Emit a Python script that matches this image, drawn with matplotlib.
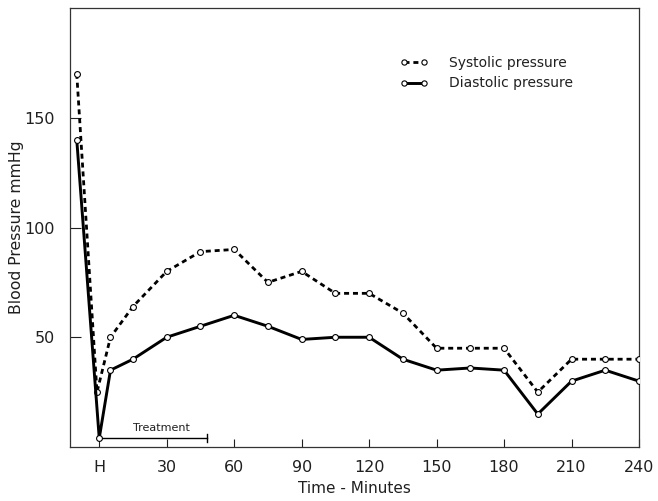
import matplotlib
matplotlib.use("Agg")
import matplotlib.pyplot as plt

# ---- data ----
sys_t = [-10, -1, 5, 15, 30, 45, 60, 75, 90, 105, 120, 135, 150, 165, 180, 195, 210, 225, 240]
systolic = [170, 25, 50, 64, 80, 89, 90, 75, 80, 70, 70, 61, 45, 45, 45, 25, 40, 40, 40]
dia_t = [-10, 0, 5, 15, 30, 45, 60, 75, 90, 105, 120, 135, 150, 165, 180, 195, 210, 225, 240]
diastolic = [140, 4, 35, 40, 50, 55, 60, 55, 49, 50, 50, 40, 35, 36, 35, 15, 30, 35, 30]
xtick_vals = [0, 30, 60, 90, 120, 150, 180, 210, 240]
xtick_labels = ["H", "30", "60", "90", "120", "150", "180", "210", "240"]
ytick_vals = [50, 100, 150]
treat_start, treat_end, treat_level = 0, 48, 4

plt.rcParams['font.family'] = ['DejaVu Sans']
txt = '#202020'

fig = plt.figure(figsize=(6.58, 5.01), dpi=100)
ax = fig.add_axes([70/658, 1-447/501, (639-70)/658, (447-8)/501])

mk = dict(marker='o', markersize=4.2, markerfacecolor='white',
          markeredgecolor='black', markeredgewidth=0.8)
ax.plot(sys_t, systolic, color='black', lw=2.0, dashes=(1.8, 1.4),
        label='Systolic pressure', zorder=3, **mk)
ax.plot(dia_t, diastolic, color='black', lw=2.1, label='Diastolic pressure',
        zorder=3, **mk)

# treatment bar
ax.plot([treat_start, treat_end], [treat_level, treat_level], color='black', lw=1.0, zorder=2)
ax.plot([treat_end, treat_end], [treat_level - 1.8, treat_level + 1.8], color='black', lw=1.0, zorder=2)
ax.text((treat_start + treat_end) / 2 + 3.5, treat_level + 2.4, "Treatment",
        ha='center', va='bottom', fontsize=8, color=txt)

ax.set_xlim(-13, 240)
ax.set_ylim(0, 200)
ax.set_xticks(xtick_vals)
ax.set_xticklabels(xtick_labels)
ax.set_yticks(ytick_vals)
ax.tick_params(axis='both', direction='in', length=6, width=0.8,
               labelsize=11.5, colors=txt, pad=9)
ax.tick_params(axis='y', length=8, pad=11)
for s in ax.spines.values():
    s.set_linewidth(0.9)
    s.set_color('#333333')

ax.set_xlabel("Time - Minutes", fontsize=11, color=txt, labelpad=5)
ax.set_ylabel("Blood Pressure mmHg", fontsize=11.3, color=txt)
ax.yaxis.set_label_coords((24 - 70) / 569, 0.5)

leg = ax.legend(loc='center left', bbox_to_anchor=((400-70)/569, (447-73)/439),
                frameon=False, fontsize=10, handlelength=2.0, handletextpad=1.5,
                labelspacing=0.5, borderpad=0, borderaxespad=0, numpoints=2,
                markerscale=0.9)
for t in leg.get_texts():
    t.set_color(txt)

fig.savefig("out.png", dpi=100, facecolor='white')
